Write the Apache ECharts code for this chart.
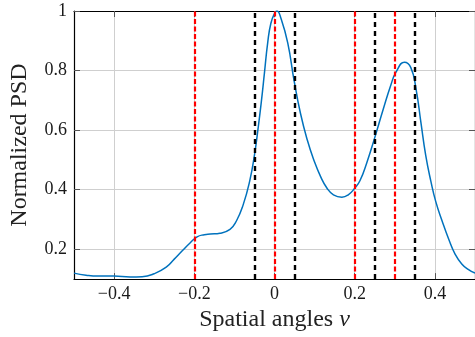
<!DOCTYPE html>
<html>
<head>
<meta charset="utf-8">
<script src="https://cdn.jsdelivr.net/npm/echarts@6/dist/echarts.min.js"></script>
<style>
  html, body { margin: 0; padding: 0; background: #fff; }
  #chart { width: 475px; height: 337px; }
</style>
</head>
<body>
<div id="chart"></div>
<script>
// spatial angle samples and normalized PSD
const angles = [-0.5, -0.47, -0.44, -0.4, -0.36, -0.33, -0.3, -0.27, -0.25, -0.23, -0.21, -0.193, -0.175,
  -0.16, -0.136, -0.111, -0.095, -0.078, -0.062, -0.05, -0.041, -0.033, -0.025, -0.017, -0.009, 0.001,
  0.006, 0.016, 0.033, 0.049, 0.065, 0.082, 0.098, 0.115, 0.131, 0.147, 0.168, 0.184, 0.2, 0.213, 0.23,
  0.25, 0.27, 0.291, 0.303, 0.324, 0.34, 0.353, 0.365, 0.377, 0.39, 0.402, 0.418, 0.435, 0.45, 0.467,
  0.483, 0.5];
const psd = [0.12, 0.113, 0.11, 0.11, 0.107, 0.108, 0.118, 0.14, 0.167, 0.195, 0.222, 0.242, 0.249,
  0.251, 0.254, 0.267, 0.295, 0.35, 0.428, 0.516, 0.605, 0.693, 0.793, 0.893, 0.959, 0.994,
  1.0, 0.976, 0.893, 0.765, 0.655, 0.566, 0.5, 0.444, 0.405, 0.383, 0.375, 0.383, 0.405, 0.43, 0.49,
  0.575, 0.665, 0.755, 0.795, 0.828, 0.81, 0.738, 0.627, 0.516, 0.428, 0.361, 0.295, 0.232, 0.185, 0.151,
  0.133, 0.12];

// vertical dashed markers
const redLines = [-0.2, 0, 0.2, 0.3];
const blackLines = [-0.05, 0.05, 0.25, 0.35];

const xTicks = [-0.4, -0.2, 0, 0.2, 0.4];
const yTicks = [0.2, 0.4, 0.6, 0.8, 1];

const FONT = 'Liberation Serif';

function fmt(v) {
  if (v === 0) return '0';
  if (v === 1) return '1';
  return (v < 0 ? '\u2212' : '') + Math.abs(v).toString();
}

const chart = echarts.init(document.getElementById('chart'), null, { renderer: 'canvas' });

function ticks(values) {
  return { show: true, inside: true, length: 6, customValues: values, lineStyle: { color: '#555', width: 1 } };
}
const grid = { show: true, lineStyle: { color: '#cfcfcf', width: 1 } };

chart.setOption({
  animation: false,
  backgroundColor: '#fff',
  grid: { left: 70, right: -1, top: 11, bottom: 55, containLabel: false },
  xAxis: [{
    type: 'value', min: -0.5, max: 0.5,
    name: 'Spatial angles {i|\u03bd}', nameLocation: 'middle', nameGap: 27,
    nameTextStyle: {
      fontFamily: FONT, fontSize: 24, color: '#222',
      rich: { i: { fontFamily: FONT, fontStyle: 'italic', fontSize: 24, color: '#222' } }
    },
    axisLine: { show: true, onZero: false, lineStyle: { color: '#000', width: 1.2 } },
    axisTick: ticks(xTicks),
    axisLabel: { fontFamily: FONT, fontSize: 18, color: '#1a1a1a', margin: 6, customValues: xTicks, formatter: fmt },
    splitLine: grid
  }, {
    type: 'value', min: -0.5, max: 0.5, position: 'top',
    axisLine: { show: true, onZero: false, lineStyle: { color: '#000', width: 1.2 } },
    axisTick: ticks(xTicks), axisLabel: { show: false }, splitLine: { show: false }
  }],
  yAxis: [{
    type: 'value', min: 0.1, max: 1,
    name: 'Normalized PSD', nameLocation: 'middle', nameGap: 42,
    nameTextStyle: { fontFamily: FONT, fontSize: 24, color: '#222' },
    axisLine: { show: true, onZero: false, lineStyle: { color: '#000', width: 1.2 } },
    axisTick: ticks(yTicks),
    axisLabel: { fontFamily: FONT, fontSize: 18, color: '#1a1a1a', margin: 7, customValues: yTicks, formatter: fmt },
    splitLine: grid
  }, {
    type: 'value', min: 0.1, max: 1, position: 'right',
    axisLine: { show: true, onZero: false, lineStyle: { color: '#000', width: 1.2 } },
    axisTick: ticks(yTicks), axisLabel: { show: false }, splitLine: { show: false }
  }],
  series: [
    {
      type: 'line', xAxisIndex: 0, yAxisIndex: 0, data: [], silent: true,
      markLine: {
        symbol: 'none', silent: true, label: { show: false },
        lineStyle: { color: '#ff0000', width: 2.2, type: [5, 2.5] },
        data: redLines.map(v => ({ xAxis: v }))
      }
    },
    {
      type: 'line', xAxisIndex: 0, yAxisIndex: 0, data: [], silent: true,
      markLine: {
        symbol: 'none', silent: true, label: { show: false },
        lineStyle: { color: '#000', width: 2.4, type: [5, 4] },
        data: blackLines.map(v => ({ xAxis: v }))
      }
    },
    {
      type: 'line', xAxisIndex: 0, yAxisIndex: 0, smooth: 0.5, symbol: 'none',
      lineStyle: { color: '#0072BD', width: 1.5 },
      data: angles.map((a, i) => [a, psd[i]])
    }
  ]
});
</script>
</body>
</html>
